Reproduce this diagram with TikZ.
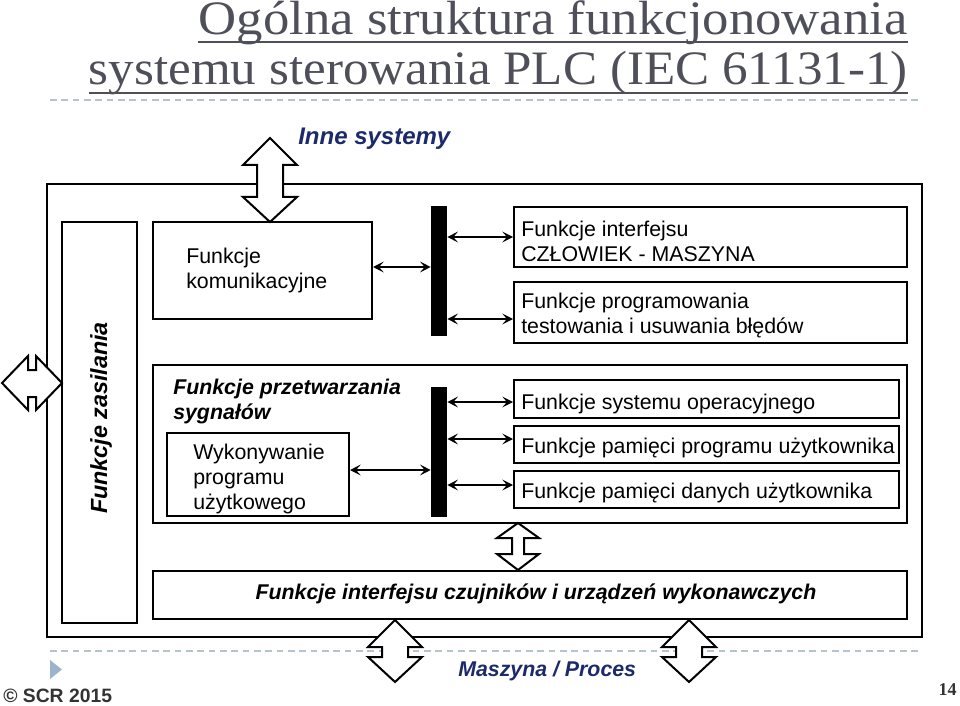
\documentclass[tikz,border=0pt]{standalone}
\usepackage{fontspec}
\setmainfont{Liberation Sans}
\newfontfamily\titlefont{Liberation Serif}
\usetikzlibrary{arrows.meta,fit}
\definecolor{titlegray}{HTML}{4F4F5A}
\definecolor{navy}{HTML}{1B2A6B}
\definecolor{dashc}{HTML}{B4C3CC}
\definecolor{bullet}{HTML}{9DB3CB}
\definecolor{foot}{HTML}{333333}
\begin{document}
\begin{tikzpicture}[x=0.75pt,y=-0.75pt,
  box/.style={draw, line width=1.5pt, inner sep=0pt},
  lbl/.style={inner sep=0pt, font=\fontsize{16}{18.75}\selectfont, align=left, anchor=base west},
  blbl/.style={inner sep=0pt, font=\fontsize{16}{18.75}\selectfont\bfseries\itshape, align=left, anchor=base west},
  link/.style={line width=1.1pt, {Stealth[length=8pt,width=8pt,inset=3.5pt]}-{Stealth[length=8pt,width=8pt,inset=3.5pt]}},
  bigarrow/.style={draw, line width=1.5pt, fill=white, line join=miter},
  busbar/.style={fill=black, draw=none, inner sep=0pt},
  sepline/.style={draw=dashc, line width=1.1pt, dash pattern=on 5pt off 3.5pt},
  ttl/.style={inner sep=0pt, font=\titlefont\fontsize{36}{45}\selectfont, text=titlegray, anchor=base east}
]
\useasboundingbox (0,0) rectangle (960,706);

% title
\node[ttl, xscale=1.099] (t1) at (908,35) {Ogólna struktura funkcjonowania};
\node[ttl, xscale=1.065] (t2) at (908,85) {systemu sterowania PLC (IEC 61131-1)};
\draw[titlegray, line width=1.4pt] (t1.west |- 0,42) -- (t1.east |- 0,42);
\draw[titlegray, line width=1.4pt] (t2.west |- 0,93) -- (t2.east |- 0,93);
\coordinate (d1a) at (50,100); \coordinate (d1b) at (918,100);
\draw[sepline] (d1a) -- (d1b);
\coordinate (d2a) at (50,651); \coordinate (d2b) at (918,651);
\draw[sepline] (d2a) -- (d2b);

% outer frame and boxes
\node[box, fit={(47,184) (922,637)}] (plc) {};
\node[box, fit={(62,222) (137,623)}] (zas) {};
\node[inner sep=0pt, rotate=90, font=\fontsize{17.5}{20}\selectfont\bfseries\itshape] (zast) at (101,418) {Funkcje zasilania};

\node[box, fit={(153,222) (372,319)}] (komm) {};
\node[lbl] (kommt) at (186,288) {Funkcje\\komunikacyjne};

\node[box, fit={(153,365) (907,523)}] (proc) {};
\node[blbl] (proct) at (173,419) {Funkcje przetwarzania\\sygnałów};
\node[box, fit={(167,433) (349,516)}] (wyk) {};
\node[lbl] (wykt) at (193,509) {Wykonywanie\\programu\\użytkowego};

\node[busbar, fit={(431,206) (447,336)}] (bar1) {};
\node[busbar, fit={(431,387) (447,517)}] (bar2) {};

\node[box, fit={(514,207) (907,267)}] (r1) {};
\node[lbl] (r1t) at (521,261) {Funkcje interfejsu\\CZŁOWIEK - MASZYNA};
\node[box, fit={(514,282) (907,343)}] (r2) {};
\node[lbl] (r2t) at (521,333) {Funkcje programowania\\testowania i usuwania błędów};
\node[box, fit={(514,380) (899,418)}] (r3) {};
\node[lbl] (r3t) at (521,409) {Funkcje systemu operacyjnego};
\node[box, fit={(514,426) (899,463)}] (r4) {};
\node[lbl] (r4t) at (521,453) {Funkcje pamięci programu użytkownika};
\node[box, fit={(514,471) (899,508)}] (r5) {};
\node[lbl] (r5t) at (521,498) {Funkcje pamięci danych użytkownika};

\node[box, fit={(153,571) (907,619)}] (io) {};
\node[inner sep=0pt, font=\fontsize{16}{18.75}\selectfont\bfseries\itshape] (iot) at (536,594) {Funkcje interfejsu czujników i urządzeń wykonawczych};

% links
\draw[link] (komm.east |- 0,267) -- (bar1.west |- 0,267);
\draw[link] (bar1.east |- 0,237) -- (r1.west |- 0,237);
\draw[link] (bar1.east |- 0,319) -- (r2.west |- 0,319);
\draw[link] (wyk.east |- 0,470) -- (bar2.west |- 0,470);
\draw[link] (bar2.east |- 0,402) -- (r3.west |- 0,402);
\draw[link] (bar2.east |- 0,439) -- (r4.west |- 0,439);
\draw[link] (bar2.east |- 0,485) -- (r5.west |- 0,485);

% block arrows
\path[bigarrow] (270,138) -- (297,165) -- (283,165) -- (283,197) -- (297,197) -- (270,222)
  -- (243,197) -- (257,197) -- (257,165) -- (243,165) -- cycle;
\path[bigarrow] (518,523) -- (539,538) -- (524,538) -- (524,554) -- (539,554) -- (518,570)
  -- (497,554) -- (512,554) -- (512,538) -- (497,538) -- cycle;
\foreach \cx in {395,689}{
  \path[bigarrow] (\cx,620) -- ++(27,27) -- ++(-14,0) -- ++(0,10) -- ++(14,0) -- (\cx,682)
    -- ++(-27,-25) -- ++(14,0) -- ++(0,-10) -- ++(-14,0) -- cycle;
}
\path[bigarrow] (2,383) -- (28,356) -- (28,370) -- (36,370) -- (36,356) -- (62,383)
  -- (36,410) -- (36,397) -- (28,397) -- (28,410) -- cycle;

\node[inner sep=0pt, anchor=base west, font=\fontsize{18}{20}\selectfont\bfseries\itshape, text=navy] (inne) at (298,145) {Inne systemy};
\node[inner sep=0pt, anchor=base west, font=\fontsize{16}{20}\selectfont\bfseries\itshape, text=navy] (masz) at (458,676) {Maszyna / Proces};

% footer
\fill[bullet] (50,660) -- (62,669.5) -- (50,679) -- cycle;
\node[inner sep=0pt, anchor=base west, font=\fontsize{14.5}{16}\selectfont\bfseries, text=foot] (copy) at (3,702) {© SCR 2015};
\node[inner sep=0pt, anchor=base east, font=\titlefont\fontsize{13.5}{16}\selectfont\bfseries, text=foot] (pnum) at (957,695) {14};
\end{tikzpicture}
\end{document}
